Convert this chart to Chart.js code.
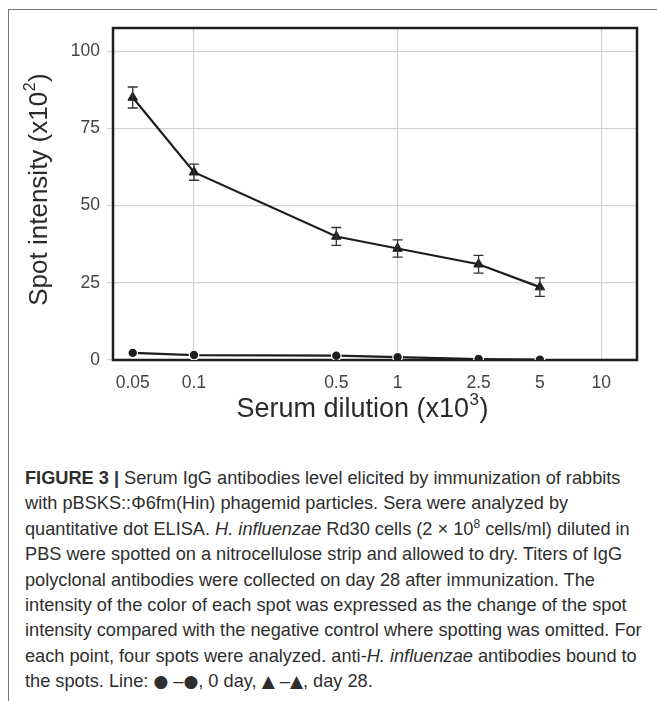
<!DOCTYPE html>
<html>
<head>
<meta charset="utf-8">
<script src="https://cdn.jsdelivr.net/npm/chart.js@4/dist/chart.umd.min.js"></script>
<style>
  html, body { margin: 0; padding: 0; background: #fff; }
  body { width: 657px; height: 701px; position: relative; overflow: hidden; }
  #frame { position: absolute; left: 8px; top: 9px; width: 800px; height: 800px;
           border-left: 1px solid #777; border-top: 1px solid #777; }
  #wrap { position: absolute; left: 0; top: 0; width: 657px; height: 440px; }
  #caption { position: absolute; left: 25px; top: 466px; font-family: "Liberation Sans", Arial, sans-serif;
             font-size: 18.2px; line-height: 25.4px; color: #2e2e2e; white-space: nowrap; }
  #caption div { white-space: nowrap; }
  #caption sup { font-size: 12px; line-height: 0; vertical-align: 7px; }
  #caption .sym { font-family: "DejaVu Sans", sans-serif; font-size: 17px; }
</style>
</head>
<body>
<div id="frame"></div>
<div id="wrap"><canvas id="c" width="657" height="440"></canvas></div>
<div id="caption">
  <div><b>FIGURE 3 |</b> Serum IgG antibodies level elicited by immunization of rabbits</div>
  <div>with pBSKS::Φ6fm(Hin) phagemid particles. Sera were analyzed by</div>
  <div>quantitative dot ELISA. <i>H. influenzae</i> Rd30 cells (2 × 10<sup>8</sup> cells/ml) diluted in</div>
  <div>PBS were spotted on a nitrocellulose strip and allowed to dry. Titers of IgG</div>
  <div>polyclonal antibodies were collected on day 28 after immunization. The</div>
  <div>intensity of the color of each spot was expressed as the change of the spot</div>
  <div>intensity compared with the negative control where spotting was omitted. For</div>
  <div>each point, four spots were analyzed. anti-<i>H. influenzae</i> antibodies bound to</div>
  <div>the spots. Line: <span class="sym">●</span> –<span class="sym">●</span>, 0 day, <span class="sym">▲</span> –<span class="sym">▲</span>, day 28.</div>
</div>
<script>
// ---- data ----
const dilutions = [0.05, 0.1, 0.5, 1, 2.5, 5];
const day0Values = [2.3, 1.6, 1.4, 0.9, 0.3, 0.1];
const day28Values = [85, 60.8, 40, 36.1, 31, 23.6];
const day28Errors = [3.4, 2.6, 2.9, 2.8, 2.9, 3.0];
const xTickValues = [0.05, 0.1, 0.5, 1, 2.5, 5, 10];
const xGridValues = [0.1, 1, 10];
const yTickValues = [0, 25, 50, 75, 100];
const xTitleParts = ['Serum dilution (x10', '3', ')'];
const yTitleParts = ['Spot intensity (x10', '2', ')'];

const FONT = '"Liberation Sans", Arial, sans-serif';
Chart.defaults.font.family = FONT;

function drawSupTitle(ctx, parts, size, cx, cy, rot) {
  const [main, sup, tail] = parts;
  ctx.save();
  ctx.translate(cx, cy);
  ctx.rotate(rot);
  const mainFont = size + 'px ' + FONT;
  const supFont = Math.round(size * 0.62) + 'px ' + FONT;
  ctx.font = mainFont;
  const w1 = ctx.measureText(main).width;
  const w3 = ctx.measureText(tail).width;
  ctx.font = supFont;
  const w2 = ctx.measureText(sup).width;
  let x = -(w1 + w2 + w3) / 2;
  ctx.textBaseline = 'middle';
  ctx.textAlign = 'left';
  ctx.fillStyle = '#2a2a2a';
  ctx.font = mainFont; ctx.fillText(main, x, 0); x += w1;
  ctx.font = supFont; ctx.fillText(sup, x + 0.5, -size * 0.36); x += w2 + 1;
  ctx.font = mainFont; ctx.fillText(tail, x, 0);
  ctx.restore();
}

const boxPlugin = {
  id: 'box',
  beforeDatasetsDraw(chart) {
    const { ctx, chartArea: a } = chart;
    ctx.save();
    ctx.strokeStyle = '#1e1e1e';
    ctx.lineWidth = 2.5;
    ctx.strokeRect(a.left, a.top, a.right - a.left, a.bottom - a.top);
    ctx.restore();
  }
};

const titlesPlugin = {
  id: 'axisTitles',
  afterDraw(chart) {
    const { ctx, chartArea: a } = chart;
    drawSupTitle(ctx, xTitleParts, 27, 362, a.bottom + 50, 0);
    drawSupTitle(ctx, yTitleParts, 26, 40, (a.top + a.bottom) / 2 - 4, -Math.PI / 2);
  }
};

const errorBarPlugin = {
  id: 'errorBars',
  afterDatasetsDraw(chart) {
    const { ctx } = chart;
    const xs = chart.scales.x, ys = chart.scales.y;
    ctx.save();
    ctx.strokeStyle = '#333';
    ctx.lineWidth = 1.3;
    dilutions.forEach((d, i) => {
      const x = xs.getPixelForValue(d);
      const yHi = ys.getPixelForValue(day28Values[i] + day28Errors[i]);
      const yLo = ys.getPixelForValue(day28Values[i] - day28Errors[i]);
      const cap = 5;
      ctx.beginPath();
      ctx.moveTo(x, yHi); ctx.lineTo(x, yLo);
      ctx.moveTo(x - cap, yHi); ctx.lineTo(x + cap, yHi);
      ctx.moveTo(x - cap, yLo); ctx.lineTo(x + cap, yLo);
      ctx.stroke();
    });
    ctx.restore();
  }
};

new Chart(document.getElementById('c'), {
  type: 'line',
  data: {
    datasets: [
      {
        label: '0 day',
        data: dilutions.map((d, i) => ({ x: d, y: day0Values[i] })),
        borderColor: '#1e1e1e',
        borderWidth: 2.2,
        pointStyle: 'circle',
        pointRadius: 4.8,
        pointBackgroundColor: '#1e1e1e',
        pointBorderColor: '#fff',
        pointBorderWidth: 1.2,
        tension: 0
      },
      {
        label: 'day 28',
        data: dilutions.map((d, i) => ({ x: d, y: day28Values[i] })),
        borderColor: '#1e1e1e',
        borderWidth: 2.2,
        pointStyle: 'triangle',
        pointRadius: 5.5,
        pointBackgroundColor: '#1e1e1e',
        pointBorderColor: '#1e1e1e',
        pointBorderWidth: 1,
        tension: 0
      }
    ]
  },
  options: {
    responsive: false,
    animation: false,
    layout: { padding: { left: 0, top: 28, right: 20, bottom: 0 } },
    plugins: { legend: { display: false }, tooltip: { enabled: false } },
    scales: {
      x: {
        type: 'logarithmic',
        position: 'bottom',
        min: 0.04,
        max: 15,
        afterBuildTicks(s) { s.ticks = xTickValues.map(v => ({ value: v })); },
        afterFit(s) { s.height = 80; },
        border: { display: false },
        grid: {
          drawTicks: false,
          color: (c) => (c.tick && xGridValues.includes(c.tick.value)) ? '#d4d4d4' : 'rgba(0,0,0,0)',
          lineWidth: 1.2
        },
        ticks: {
          autoSkip: false, maxRotation: 0, padding: 13,
          font: { size: 17.5 }, color: '#444',
          callback: (v) => String(v)
        },
        title: { display: false }
      },
      y: {
        type: 'linear',
        min: 0,
        max: 107.5,
        afterBuildTicks(s) { s.ticks = yTickValues.map(v => ({ value: v })); },
        afterFit(s) { s.width = 113; },
        border: { display: false },
        grid: { color: '#d4d4d4', lineWidth: 1.2, tickLength: 6 },
        ticks: { padding: 7, font: { size: 17.5 }, color: '#444' },
        title: { display: false }
      }
    }
  },
  plugins: [boxPlugin, errorBarPlugin, titlesPlugin]
});
</script>
</body>
</html>
